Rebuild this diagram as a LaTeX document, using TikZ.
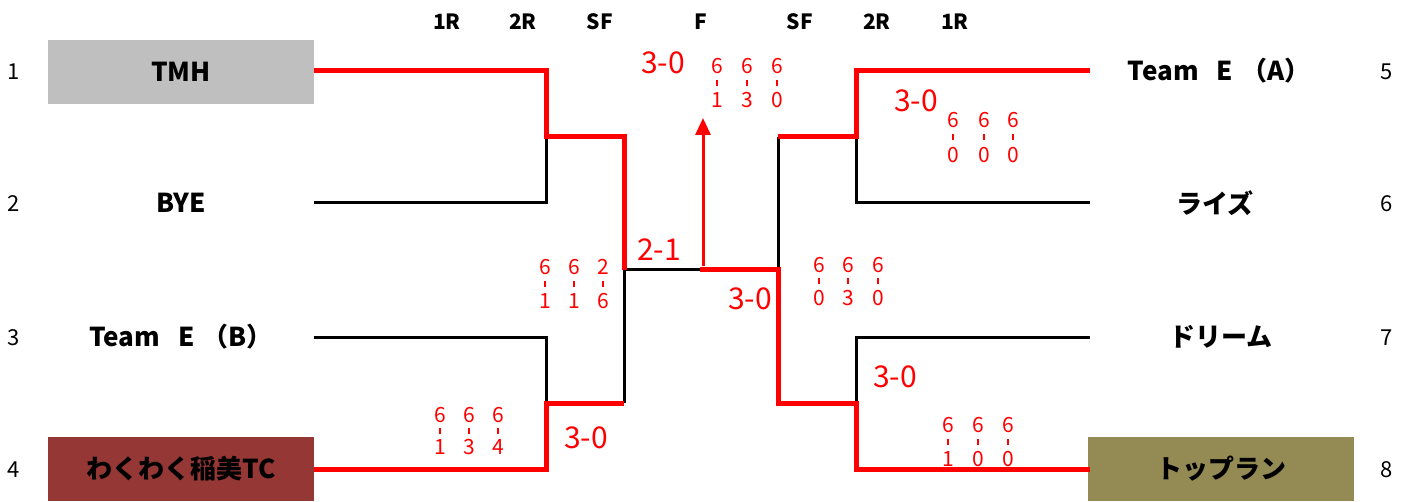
\documentclass[tikz,border=0pt]{standalone}
\usepackage{fontspec}
\setmainfont{Noto Sans CJK JP}
\usetikzlibrary{arrows.meta}
\definecolor{boxgray}{HTML}{BFBFBF}
\definecolor{boxbrown}{HTML}{953735}
\definecolor{boxolive}{HTML}{948A54}
\newcommand\vsc[6]{%
  \node[dig] (#1t) at (#2,#3) {#5};
  \node[dig] (#1b) at (#2,#4) {#6};
  \draw[red,line width=2pt] (#2,{(#3+#4)/2-3}) -- (#2,{(#3+#4)/2+3});}
\begin{document}
\begin{tikzpicture}[x=1pt,y=-1pt,
  team/.style={font=\fontsize{26}{28}\selectfont\bfseries, inner sep=0pt},
  tbox/.style={team, minimum width=266pt, minimum height=64pt},
  seed/.style={font=\fontsize{22}{24}\selectfont, inner sep=0pt},
  hdr/.style={font=\fontsize{21}{23}\selectfont\bfseries, inner sep=0pt},
  big/.style={text=red, font=\fontsize{30}{32}\selectfont, inner sep=0pt},
  dig/.style={text=red, font=\fontsize{21}{22}\selectfont, inner sep=0pt},
  win/.style={draw=red, line width=5pt, line join=miter},
  lose/.style={draw=black, line width=3pt, line join=miter}]
\useasboundingbox (0,0) rectangle (1415,502);
\fill[white] (0,0) rectangle (1415,502);

% headers
\node[hdr] (h1) at (447,22) {1R};
\node[hdr] (h2) at (523,22) {2R};
\node[hdr] (h3) at (600,22) {SF};
\node[hdr] (h4) at (701,22) {F};
\node[hdr] (h5) at (800,22) {SF};
\node[hdr] (h6) at (877,22) {2R};
\node[hdr] (h7) at (955,22) {1R};

% seeds
\node[seed] (n1) at (14,72) {1};
\node[seed] (n2) at (14,204) {2};
\node[seed] (n3) at (14,338) {3};
\node[seed] (n4) at (14,470) {4};
\node[seed] (n5) at (1387,72) {5};
\node[seed] (n6) at (1387,204) {6};
\node[seed] (n7) at (1387,338) {7};
\node[seed] (n8) at (1387,470) {8};

% teams
\node[tbox, fill=boxgray] (t1) at (181,72) {TMH};
\node[team] (t2) at (181,203) {BYE};
\node[team] (t3) at (181,337) {Team\hspace{0.7em}E\hspace{0.3em}（B）};
\node[tbox, fill=boxbrown] (t4) at (181,469) {わくわく稲美TC};
\node[team] (t5) at (1219,71) {Team\hspace{0.7em}E\hspace{0.3em}（A）};
\node[team] (t6) at (1215,203) {ライズ};
\node[team] (t7) at (1221,337) {ドリーム};
\node[tbox, fill=boxolive] (t8) at (1221,469) {トップラン};

% junction coordinates
\coordinate (l1) at (314,71);
\coordinate (l2) at (314,203);
\coordinate (l3) at (314,337);
\coordinate (l4) at (314,469);
\coordinate (r1) at (1090,71);
\coordinate (r2) at (1090,203);
\coordinate (r3) at (1090,337);
\coordinate (r4) at (1090,469);
\coordinate (a1) at (546,71);
\coordinate (a2) at (546,203);
\coordinate (am) at (546,137);
\coordinate (a3) at (546,337);
\coordinate (a4) at (546,469);
\coordinate (an) at (546,403);
\coordinate (b1) at (624,137);
\coordinate (b2) at (624,403);
\coordinate (bm) at (624,270);
\coordinate (cm) at (700,270);
\coordinate (d1) at (778,137);
\coordinate (d2) at (778,403);
\coordinate (dm) at (778,270);
\coordinate (e1) at (856,71);
\coordinate (e2) at (856,203);
\coordinate (em) at (856,137);
\coordinate (e3) at (856,337);
\coordinate (e4) at (856,469);
\coordinate (en) at (856,403);
\coordinate (fa) at (703,266);
\coordinate (fb) at (703,118);

% losing lines
\draw[lose] (l2) -- (a2) -- (am);
\draw[lose] (l3) -- (a3) -- (an);
\draw[lose] (b2) -- (bm) -- (cm);
\draw[lose] (dm) -- (d1);
\draw[lose] (r2) -- (e2) -- (em);
\draw[lose] (r3) -- (e3) -- (en);

% winning lines
\draw[win] (l1) -- (a1) -- (am) -- (b1) -- (bm);
\draw[win] (l4) -- (a4) -- (an) -- (b2);
\draw[win] (cm) -- (dm) -- (d2) -- (en) -- (e4) -- (r4);
\draw[win] (d1) -- (em) -- (e1) -- (r1);
\draw[red, line width=3pt, -{Triangle[width=15pt,length=17pt]}] (fa) -- (fb);

% match results
\node[big] (s1) at (663,63) {3-0};
\node[big] (s2) at (916,101) {3-0};
\node[big] (s3) at (659,250) {2-1};
\node[big] (s4) at (750,299) {3-0};
\node[big] (s5) at (895,377) {3-0};
\node[big] (s6) at (586,438) {3-0};

% set scores
\vsc{fa1}{717}{66}{100}{6}{1}
\vsc{fa2}{747}{66}{100}{6}{3}
\vsc{fa3}{777}{66}{100}{6}{0}
\vsc{ra1}{953}{120}{155}{6}{0}
\vsc{ra2}{984}{120}{155}{6}{0}
\vsc{ra3}{1013}{120}{155}{6}{0}
\vsc{ls1}{545}{267}{301}{6}{1}
\vsc{ls2}{574}{267}{301}{6}{1}
\vsc{ls3}{603}{267}{301}{2}{6}
\vsc{rs1}{819}{265}{298}{6}{0}
\vsc{rs2}{848}{265}{298}{6}{3}
\vsc{rs3}{878}{265}{298}{6}{0}
\vsc{rb1}{948}{425}{459}{6}{1}
\vsc{rb2}{978}{425}{459}{6}{0}
\vsc{rb3}{1008}{425}{459}{6}{0}
\vsc{lb1}{440}{415}{447}{6}{1}
\vsc{lb2}{469}{415}{447}{6}{3}
\vsc{lb3}{498}{415}{447}{6}{4}
\end{tikzpicture}
\end{document}
